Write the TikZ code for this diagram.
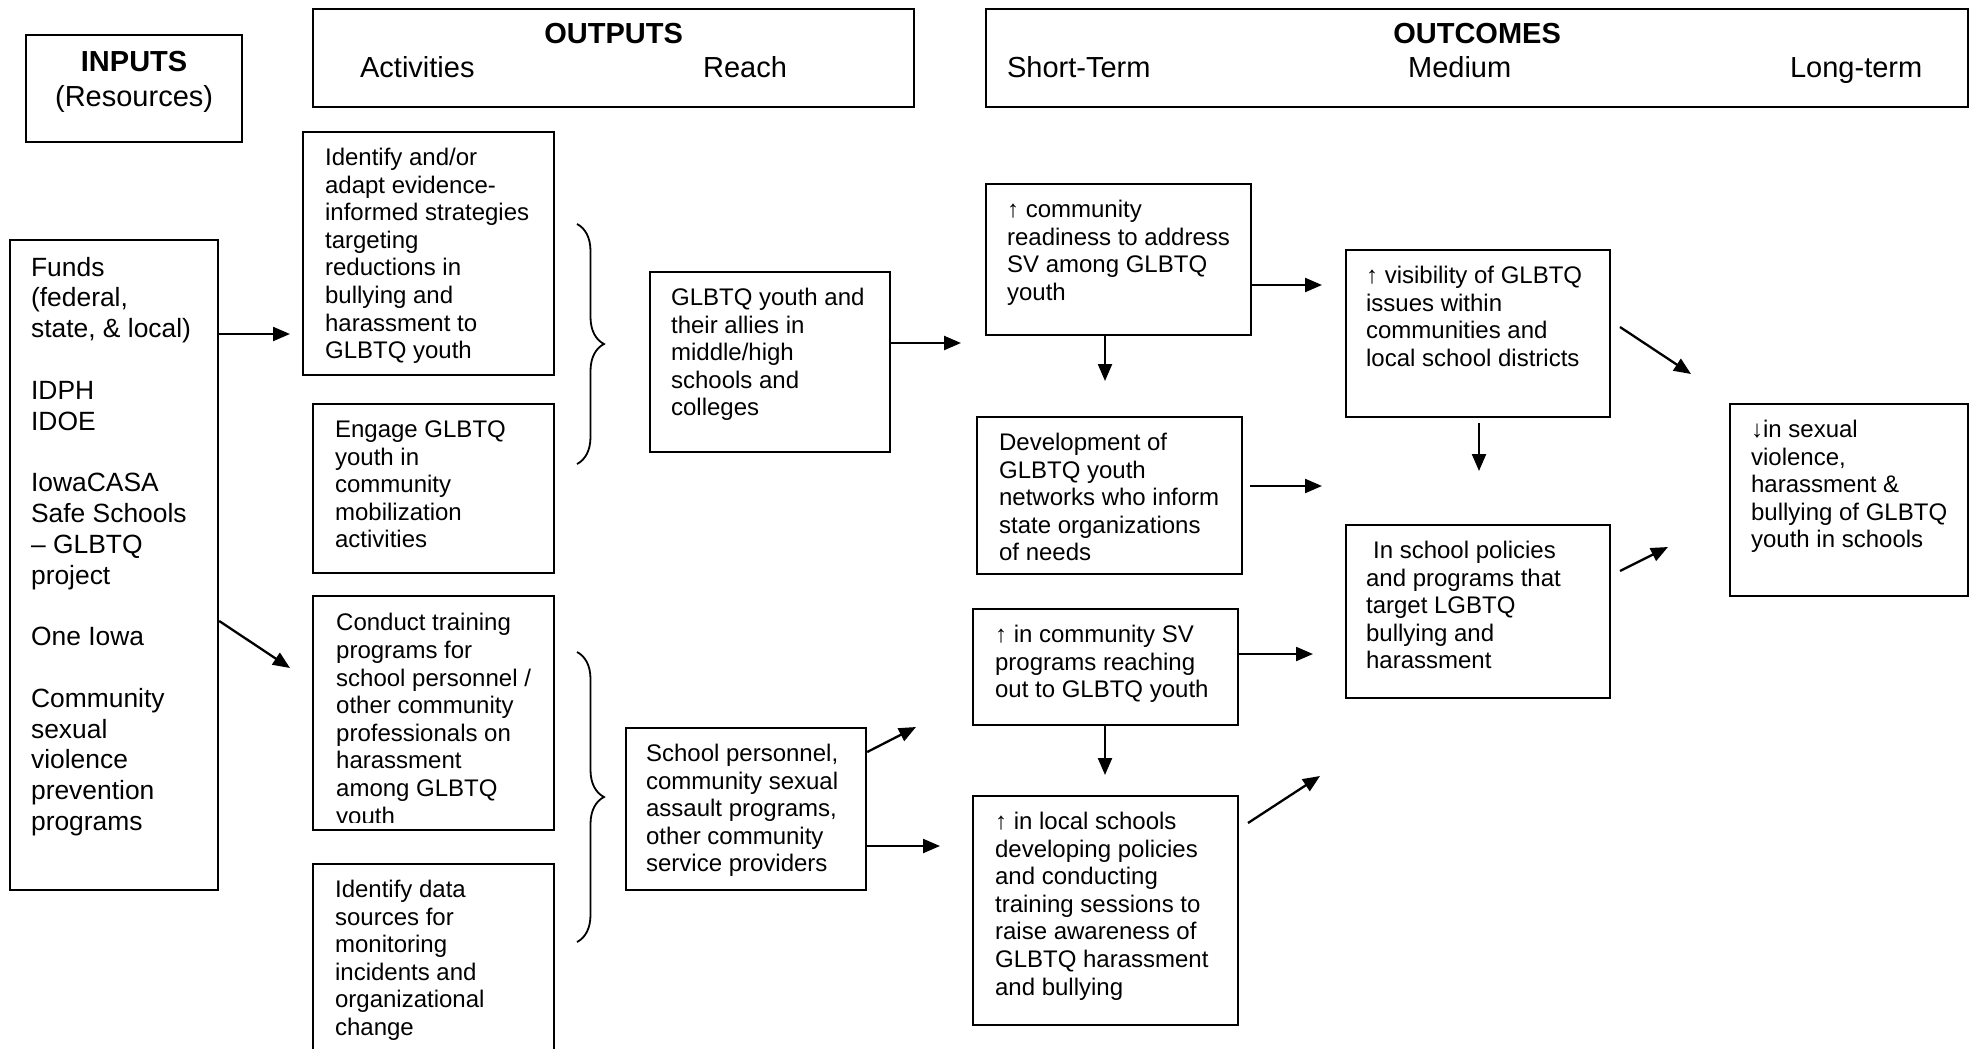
\documentclass[tikz,border=0pt]{standalone}
\usepackage{fontspec}
\setmainfont{Liberation Sans}
\usetikzlibrary{arrows.meta,decorations.pathreplacing}

% #1 width, #2 height, #3 left pad, #4 top pad, #5 text
\newcommand{\tbox}[5]{\parbox[c][#2][t]{#1}{\vspace*{#4}\raggedright\leftskip=#3\relax\strut #5\par}}

\tikzset{
  box/.style={draw, line width=1.1pt, inner sep=0pt, anchor=north west, font=\fontsize{12}{13.8}\selectfont},
  hbox/.style={box, font=\fontsize{14.5}{17.5}\selectfont},
  hboxb/.style={box, font=\fontsize{14.5}{16.9}\selectfont},
  arr/.style={line width=1.15pt, -{Triangle[length=8.5pt,width=7pt]}},
  brc/.style={line width=0.9pt, decorate, decoration={brace, amplitude=13.5pt}},
}

\begin{document}
\begin{tikzpicture}[x=0.5pt,y=-0.5pt]
\useasboundingbox (0,0) rectangle (1975,1049);
\clip (0,0) rectangle (1975,1049);

% header boxes
\node[hbox] (inputs) at (25,34) {\parbox[c][53.5pt][t]{108pt}{\vspace*{5.75pt}\centering\strut\textbf{INPUTS}\\(Resources)\par}};
\node[hboxb] (outputs) at (312,8) {\parbox[c][49pt][t]{300.5pt}{\vspace*{5.3pt}\centering\strut\textbf{OUTPUTS}\\\makebox[\linewidth][l]{\hspace*{23.5pt}\makebox[171.5pt][l]{Activities}Reach}\par}};
\node[hboxb] (outcomes) at (985,8) {\parbox[c][49pt][t]{491pt}{\vspace*{5.3pt}\centering\strut\textbf{OUTCOMES}\\\makebox[\linewidth][l]{\hspace*{10.5pt}\makebox[200.5pt][l]{Short-Term}\makebox[191pt][l]{Medium}Long-term}\par}};

% inputs
\node[box, font=\fontsize{13.2}{15.4}\selectfont] (funds) at (9,239) {\tbox{104pt}{325pt}{10.5pt}{7.2pt}{Funds\\(federal,\\state, \& local)\\[15.4pt]IDPH\\IDOE\\[15.4pt]IowaCASA\\Safe Schools\\– GLBTQ\\project\\[15.4pt]One Iowa\\[15.4pt]Community\\sexual\\violence\\prevention\\programs}};

% activities
\node[box] (act1) at (302,131) {\tbox{125.5pt}{121.5pt}{11pt}{7pt}{Identify and/or\\adapt evidence-\\informed strategies\\targeting\\reductions in\\bullying and\\harassment to\\GLBTQ youth}};
\node[box] (engage) at (312,403) {\tbox{120.5pt}{84.5pt}{11pt}{7pt}{Engage GLBTQ\\youth in\\community\\mobilization\\activities}};
\node[box, minimum width=120.5pt, minimum height=117pt,
  path picture={\clip ([yshift=4pt]path picture bounding box.south west) rectangle (path picture bounding box.north east);
  \node[inner sep=0pt, anchor=north west, draw=none, font=\fontsize{12}{13.8}\selectfont] at (path picture bounding box.north west) {\tbox{120.5pt}{117pt}{11pt}{7.2pt}{Conduct training\\programs for\\school personnel /\\other community\\professionals on\\harassment\\among GLBTQ\\youth}};}] (conduct) at (312,595) {};
\node[box] (identdata) at (312,863) {\tbox{120.5pt}{120pt}{11pt}{7pt}{Identify data\\sources for\\monitoring\\incidents and\\organizational\\change}};

% braces
\draw[brc] (577,224) -- (577,464);
\draw[brc] (577,652) -- (577,942);

% reach
\node[box] (glbtq) at (649,271) {\tbox{120pt}{90pt}{10.5pt}{7pt}{GLBTQ youth and\\their allies in\\middle/high\\schools and\\colleges}};
\node[box] (schoolp) at (625,727) {\tbox{120pt}{81pt}{10pt}{7pt}{School personnel,\\community sexual\\assault programs,\\other community\\service providers}};

% short-term
\node[box] (readiness) at (985,183) {\tbox{132.5pt}{75.5pt}{10.5pt}{7pt}{↑ community\\readiness to address\\SV among GLBTQ\\youth}};
\node[box] (develop) at (976,416) {\tbox{132.5pt}{78.5pt}{11pt}{7pt}{Development of\\GLBTQ youth\\networks who inform\\state organizations\\of needs}};
\node[box] (commsv) at (972,608) {\tbox{132.5pt}{58pt}{11pt}{7pt}{↑ in community SV\\programs reaching\\out to GLBTQ youth}};
\node[box] (local) at (972,795) {\tbox{132.5pt}{114.5pt}{11pt}{7pt}{↑ in local schools\\developing policies\\and conducting\\training sessions to\\raise awareness of\\GLBTQ harassment\\and bullying}};

% medium
\node[box] (visibility) at (1345,249) {\tbox{132pt}{83.5pt}{10pt}{7pt}{↑ visibility of GLBTQ\\issues within\\communities and\\local school districts}};
\node[box] (policies) at (1345,524) {\tbox{132pt}{86.5pt}{10pt}{7pt}{\hspace*{3.5pt}In school policies\\and programs that\\target LGBTQ\\bullying and\\harassment}};

% long-term
\node[box] (decrease) at (1729,403) {\tbox{119pt}{96pt}{10.5pt}{7pt}{↓in sexual\\violence,\\harassment \&\\bullying of GLBTQ\\youth in schools}};

% arrows
\coordinate (e1) at (290,334);
\draw[arr] (funds.east |- e1) -- (e1);
\coordinate (s2) at (217,621); \coordinate (e2) at (290,668);
\draw[arr] (funds.east |- s2) -- (e2);
\coordinate (e3) at (961,343);
\draw[arr] (glbtq.east |- e3) -- (e3);
\coordinate (s4) at (865,752); \coordinate (e4) at (916,727);
\draw[arr] (schoolp.east |- s4) -- (e4);
\coordinate (e5) at (940,846);
\draw[arr] (schoolp.east |- e5) -- (e5);
\coordinate (e6) at (1105,381);
\draw[arr] (readiness.south -| e6) -- (e6);
\coordinate (e7) at (1322,285);
\draw[arr] (readiness.east |- e7) -- (e7);
\coordinate (s8) at (1250,486); \coordinate (e8) at (1322,486);
\draw[arr] (s8) -- (e8);
\coordinate (e9) at (1313,654);
\draw[arr] (commsv.east |- e9) -- (e9);
\coordinate (e10) at (1105,775);
\draw[arr] (commsv.south -| e10) -- (e10);
\coordinate (s11) at (1248,823); \coordinate (e11) at (1320,776);
\draw[arr] (s11) -- (e11);
\coordinate (s12) at (1479,423); \coordinate (e12) at (1479,471);
\draw[arr] (s12) -- (e12);
\coordinate (s13) at (1620,327); \coordinate (e13) at (1691,374);
\draw[arr] (s13) -- (e13);
\coordinate (s14) at (1620,571); \coordinate (e14) at (1668,547);
\draw[arr] (s14) -- (e14);
\end{tikzpicture}
\end{document}
